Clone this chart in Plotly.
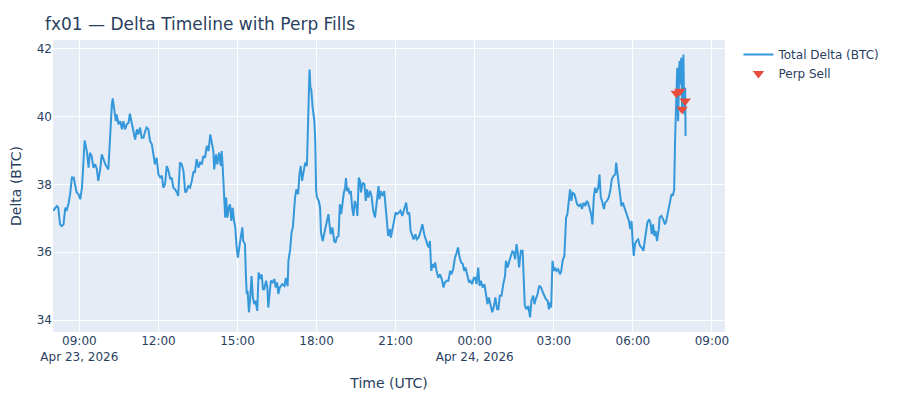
import pandas as pd
import plotly.graph_objects as go

START = pd.Timestamp("2026-04-23 08:00")

# total delta in four stretches (minutes after 08:00, BTC)
morning_min = [0, 9, 12, 16, 20, 24, 28, 31, 35, 39, 43, 47, 50, 54, 58, 62, 66, 69, 72, 77,
               81, 84, 88, 92, 96, 100, 103, 107, 111, 115, 119, 126, 130, 134, 136, 139, 143, 145, 149, 153,
               157, 160, 164, 168, 172, 175, 179, 183, 187, 191, 194, 198, 202, 206, 210, 213, 217, 221, 225, 229,
               232, 236, 240, 244, 248, 251, 255, 259, 263, 267, 270, 274, 278, 282, 285, 289, 293, 297, 301, 304,
               308, 312, 316, 320, 323, 327, 331, 335, 339, 342, 346, 350, 354, 358]
morning_val = [37.22, 37.36, 37.31, 36.82, 36.77, 36.82, 37.31, 37.22, 37.41, 37.71,
               38.20, 38.20, 38.00, 37.76, 37.71, 37.56, 37.90, 38.78, 39.29, 38.98,
               38.49, 38.93, 38.83, 38.49, 38.59, 38.44, 38.10, 38.39, 38.88, 38.74,
               38.59, 38.44, 39.47, 40.35, 40.53, 40.26, 39.86, 40.06, 39.77, 39.86,
               39.62, 39.86, 39.62, 39.77, 39.81, 40.08, 39.77, 39.57, 39.32, 39.62,
               39.47, 39.67, 39.37, 39.37, 39.57, 39.67, 39.62, 39.27, 39.18, 38.78,
               38.59, 38.78, 38.29, 38.20, 38.25, 37.90, 38.00, 38.54, 38.39, 38.15,
               38.20, 37.90, 37.85, 37.76, 37.66, 38.64, 38.59, 38.39, 37.76, 37.80,
               37.95, 37.90, 38.10, 38.39, 38.34, 38.74, 38.49, 38.64, 38.59, 38.83,
               38.78, 39.13, 38.98, 39.47]

afternoon_min = [361, 365, 367, 371, 374, 378, 382, 384, 386, 389, 392, 394, 397, 400, 403, 406, 409, 412, 415, 418,
                 421, 424, 428, 431, 433, 437, 439, 441, 443, 446, 449, 452, 455, 458, 461, 465, 468, 472, 475, 478,
                 481, 485, 488, 490, 493, 496, 500, 504, 507, 510, 513, 516, 519, 522, 527, 530, 534, 536, 540, 543,
                 546, 548, 551, 554, 558, 561, 564, 567, 571, 574, 578, 580, 582, 584, 586, 588, 591, 595, 597, 599,
                 601, 605, 608, 610, 614, 617, 621, 624, 627, 629, 632, 636, 640, 643, 646, 650, 653, 656, 659, 662,
                 665, 667, 669, 672, 675, 678, 681, 684, 687, 691, 693, 696, 699, 701, 705, 709, 712, 715, 718]
afternoon_val = [39.27, 38.98, 38.44, 38.88, 38.59, 38.93, 38.54, 38.98, 38.59, 37.71,
                 37.02, 37.61, 37.02, 37.31, 37.41, 36.92, 37.31, 36.92, 36.73, 36.14,
                 35.84, 36.14, 36.43, 36.73, 36.33, 36.24, 35.35, 34.77, 34.86, 34.23,
                 34.67, 35.30, 34.67, 34.47, 34.57, 34.27, 35.40, 35.21, 35.35, 34.91,
                 34.91, 35.16, 34.96, 34.37, 34.77, 35.16, 35.11, 35.21, 34.96, 35.11,
                 34.77, 34.96, 35.01, 35.06, 35.01, 35.24, 35.00, 35.75, 36.09, 36.58,
                 36.73, 37.22, 37.61, 37.85, 37.71, 38.29, 38.54, 38.10, 38.49, 38.64,
                 38.54, 39.27, 40.45, 41.38, 40.84, 40.79, 40.26, 39.86, 39.27, 37.80,
                 37.61, 37.51, 37.31, 36.58, 36.33, 36.53, 36.77, 36.92, 37.12, 36.87,
                 36.53, 36.73, 36.33, 36.28, 36.43, 36.48, 37.41, 37.12, 37.51, 37.75,
                 37.90, 38.18, 37.80, 37.90, 37.71, 37.80, 37.31, 37.07, 37.51, 37.31,
                 37.07, 38.20, 38.10, 37.76, 38.05, 38.00, 37.51, 37.85, 37.61]

night_min = [722, 725, 729, 733, 737, 741, 743, 746, 750, 754, 757, 760, 763, 767, 769, 772, 776, 780, 784, 788,
             791, 795, 799, 804, 807, 811, 814, 817, 821, 825, 828, 832, 835, 839, 841, 845, 848, 852, 855, 858,
             861, 864, 867, 870, 873, 877, 881, 885, 889, 892, 896, 900, 904, 907, 911, 915, 919, 922, 925, 929,
             933, 936, 939, 943, 947, 950, 954, 958, 961, 964, 968, 971, 974, 978, 982, 985, 989, 992, 996, 1000,
             1004, 1007, 1011, 1014, 1017, 1021, 1025, 1029, 1031, 1035, 1039, 1043, 1046, 1049, 1052, 1055, 1058,
             1061, 1065, 1069, 1071, 1074, 1078, 1082]
night_val = [37.80, 37.66, 37.22, 37.02, 37.41, 37.95, 37.56, 37.80, 37.66, 37.80,
             37.36, 36.97, 36.48, 36.68, 36.43, 36.63, 36.92, 37.17, 37.12, 37.17,
             37.22, 37.07, 37.22, 37.46, 37.12, 37.17, 36.63, 36.53, 36.38, 36.53,
             36.38, 36.43, 36.53, 36.73, 36.82, 36.53, 36.38, 36.24, 36.14, 36.33,
             35.45, 35.65, 35.55, 35.70, 35.45, 35.25, 35.35, 35.21, 34.96, 35.11,
             35.16, 35.16, 35.45, 35.35, 35.50, 35.84, 35.99, 36.14, 35.89, 35.70,
             35.65, 35.45, 35.55, 35.30, 35.11, 35.16, 35.06, 35.25, 35.25, 35.06,
             35.55, 35.01, 35.16, 34.96, 35.06, 34.82, 34.47, 34.67, 34.42, 34.23,
             34.42, 34.67, 34.32, 34.32, 34.72, 34.72, 35.06, 35.30, 35.75, 35.55,
             35.75, 35.94, 36.04, 35.99, 35.79, 36.24, 35.99, 35.55, 36.04, 36.04,
             35.45, 34.42, 34.32, 34.42]

early_min = [1086, 1089, 1093, 1096, 1099, 1103, 1107, 1111, 1115, 1118, 1122, 1126, 1129, 1132, 1134, 1137,
             1140, 1143, 1146, 1150, 1154, 1157, 1160, 1164, 1166, 1168, 1171, 1174, 1177, 1180, 1183, 1187,
             1190, 1193, 1197, 1201, 1204, 1208, 1212, 1215, 1218, 1222, 1225, 1228, 1231, 1234, 1237, 1241,
             1244, 1247, 1250, 1254, 1257, 1261, 1265, 1269, 1272, 1276, 1280, 1282, 1285, 1288, 1291, 1294,
             1297, 1301, 1304, 1308, 1311, 1314, 1317, 1319, 1322, 1325, 1328, 1332, 1336, 1340, 1344, 1347,
             1350, 1353, 1357, 1360, 1363, 1366, 1369, 1372, 1375, 1379, 1381, 1385, 1389, 1393, 1396, 1399,
             1402, 1405, 1408, 1411, 1414, 1416, 1419, 1421, 1423, 1426, 1428, 1430, 1432, 1435, 1437, 1439, 1440]
early_val = [34.08, 34.57, 34.72, 34.47, 34.62, 34.77, 35.01, 34.96, 34.82, 34.72,
             34.62, 34.57, 34.32, 34.52, 34.37, 35.75, 35.45, 35.55, 35.45, 35.50,
             35.35, 35.45, 35.75, 35.89, 36.53, 37.02, 37.12, 37.61, 37.85, 37.51,
             37.75, 37.71, 37.56, 37.41, 37.36, 37.41, 37.27, 37.46, 37.36, 37.51,
             37.46, 37.22, 37.12, 36.82, 37.61, 37.90, 37.75, 37.90, 38.29, 37.61,
             37.51, 37.27, 37.46, 37.51, 37.61, 37.85, 38.15, 38.25, 38.29, 38.64,
             38.29, 38.10, 37.61, 37.36, 37.46, 37.31, 37.22, 37.07, 36.92, 36.68,
             36.92, 36.43, 35.89, 36.24, 36.33, 36.38, 36.19, 36.14, 36.04, 36.33,
             36.63, 36.87, 36.97, 36.87, 36.53, 36.82, 36.48, 36.63, 36.33, 36.68,
             37.02, 37.07, 36.97, 36.82, 36.92, 37.12, 37.31, 37.51, 37.71, 37.66,
             37.85, 39.27, 40.26, 41.43, 39.86, 41.63, 40.94, 41.73, 40.26, 41.82,
             40.06, 40.84, 39.42]

# perp sell fills
sell_min = [1419, 1427, 1432, 1439]
sell_val = [40.68, 40.74, 40.21, 40.45]

minutes = morning_min + afternoon_min + night_min + early_min
delta = morning_val + afternoon_val + night_val + early_val
assert len(minutes) == len(delta)

times = START + pd.to_timedelta(minutes, unit="min")
sell_times = START + pd.to_timedelta(sell_min, unit="min")

fig = go.Figure()
fig.add_trace(go.Scatter(x=times, y=delta, mode="lines", name="Total Delta (BTC)",
                         line=dict(color="#3498db", width=2)))
fig.add_trace(go.Scatter(x=sell_times, y=sell_val, mode="markers", name="Perp Sell",
                         marker=dict(symbol="triangle-down", size=10, color="#e74c3c")))

# the page puts the figure 8px in from the left, so margins are trimmed to suit
fig.update_layout(title=dict(text="fx01 — Delta Timeline with Perp Fills",
                             x=0.041, xanchor="left", y=0.96, yanchor="middle"),
                  xaxis_title="Time (UTC)", yaxis_title="Delta (BTC)",
                  width=900, height=400, template="plotly",
                  font=dict(family="Verdana, DejaVu Sans, sans-serif"),
                  margin=dict(l=45, r=183, t=32, b=76))
fig.update_xaxes(automargin=False)
fig.update_yaxes(automargin=False)

fig.write_html("out.html")
